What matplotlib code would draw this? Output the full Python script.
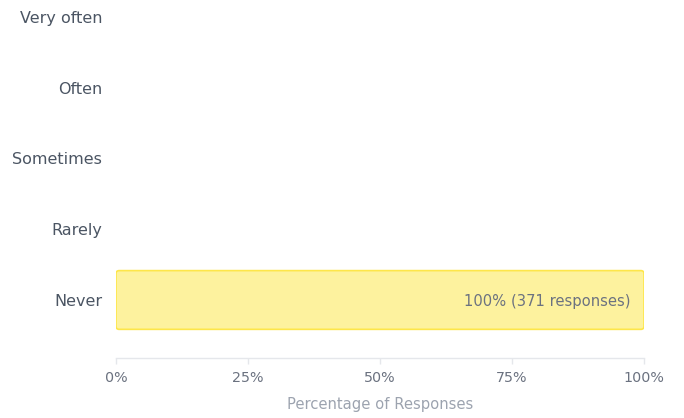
import matplotlib
matplotlib.use("Agg")
import matplotlib.pyplot as plt
from matplotlib.patches import FancyBboxPatch
from matplotlib.ticker import PercentFormatter

# data
categories = ["Never", "Rarely", "Sometimes", "Often", "Very often"]
percentages = [100, 0, 0, 0, 0]
responses = [371, 0, 0, 0, 0]
x_ticks = [0, 25, 50, 75, 100]

FILL = "#fdf29e"
EDGE = "#fde64a"
LABEL = "#4b5563"
TICK = "#6b7280"
AXIS_LABEL = "#9ca3af"
LINE = "#e5e7eb"

fig = plt.figure(figsize=(6.84, 4.18), dpi=100)
ax = fig.add_axes([116 / 684, 1 - 358 / 418, 528 / 684, 358 / 418])
ax.set_xlim(0, 100)
ax.set_ylim(-0.82, 4.24)

bar_height = 0.83
x_px_per_unit = 528 / 100
y_px_per_unit = 358 / 5.06
for y, (pct, n) in enumerate(zip(percentages, responses)):
    if pct <= 0:
        continue
    bar = FancyBboxPatch(
        (0, y - bar_height / 2), pct, bar_height,
        boxstyle="round,pad=0,rounding_size=0.6",
        mutation_aspect=x_px_per_unit / y_px_per_unit,
        facecolor=FILL, edgecolor=EDGE, linewidth=1.2,
    )
    ax.add_patch(bar)
    ax.annotate(
        f"{pct}% ({n} responses)", (pct, y - 0.015), xytext=(-10, 0),
        textcoords="offset points", ha="right", va="center",
        color=TICK, fontsize=10.6,
    )

ax.set_yticks(range(len(categories)))
ax.set_yticklabels(categories)
ax.tick_params(axis="y", length=0, pad=10, labelsize=11.5, labelcolor=LABEL)

ax.set_xticks(x_ticks)
ax.xaxis.set_major_formatter(PercentFormatter(decimals=0))
ax.tick_params(axis="x", length=4, width=1, color=LINE, pad=5,
               labelsize=10.3, labelcolor=TICK)
ax.set_xlabel("Percentage of Responses", color=AXIS_LABEL, fontsize=10.6, labelpad=9)

for side in ("top", "right", "left"):
    ax.spines[side].set_visible(False)
ax.spines["bottom"].set_color(LINE)
ax.spines["bottom"].set_linewidth(1)

fig.savefig("out.png", dpi=100)
